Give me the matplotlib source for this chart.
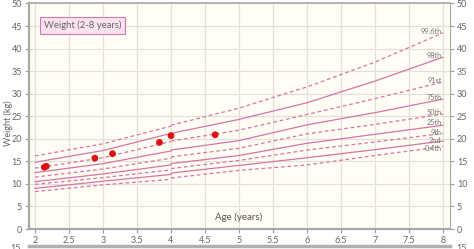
import matplotlib
matplotlib.use("Agg")
import matplotlib.pyplot as plt

# ---- data ----
ages_early = [2, 3, 4]
ages_late = [4, 5, 6, 7, 8]
centile_names = ["99.6th", "98th", "91st", "75th", "50th", "25th", "9th", "2nd", "0.4th"]
centile_dashed = [True, False, True, False, True, False, True, False, True]
early_vals = [
    [16.2, 18.9, 22.8],
    [14.8, 17.4, 21.2],
    [13.5, 15.8, 19.4],
    [12.5, 14.5, 17.3],
    [11.5, 13.3, 15.7],
    [10.5, 12.2, 14.2],
    [9.9, 11.4, 13.1],
    [9.0, 10.6, 12.1],
    [8.3, 9.8, 11.0],
]
late_vals = [
    [23.0, 26.8, 31.5, 37.0, 43.5],
    [21.2, 24.3, 28.0, 32.8, 38.1],
    [19.5, 21.9, 25.4, 28.9, 32.6],
    [17.5, 19.6, 23.1, 25.8, 28.8],
    [16.0, 17.9, 21.1, 23.2, 25.5],
    [14.5, 16.3, 19.0, 21.0, 23.0],
    [13.4, 15.2, 17.5, 19.3, 21.2],
    [12.4, 14.1, 15.8, 17.6, 19.5],
    [11.3, 13.0, 14.2, 16.3, 18.3],
]
point_ages = [2.137, 2.166, 2.88, 3.14, 3.83, 4.0, 4.65]
point_weights = [13.7, 13.9, 15.7, 16.7, 19.2, 20.7, 20.9]
x_ticks = [2, 2.5, 3, 3.5, 4, 4.5, 5, 5.5, 6, 6.5, 7, 7.5, 8]
y_ticks = [0, 5, 10, 15, 20, 25, 30, 35, 40, 45, 50]

plt.rcParams['font.family'] = ['Lato', 'DejaVu Sans']

W, H = 474, 249
fig = plt.figure(figsize=(W / 100, H / 100), dpi=100)
fig.patch.set_facecolor('white')
ax = fig.add_axes([29 / W, 1 - 229 / H, (450 - 29) / W, (229 - 3.5) / H])
ax.set_facecolor('#fffdf4')
ax.set_xlim(2 - 6 / 68, 2 + (450 - 35) / 68)
ax.set_ylim(0, 50)

ax.set_xticks(x_ticks)
ax.set_xticklabels([f"{t:g}" for t in x_ticks])
ax.set_yticks(y_ticks)
ax.grid(True, color='#e4e1d8', linewidth=0.9)
ax.set_axisbelow(True)

for side in ['left', 'right', 'bottom', 'top']:
    ax.spines[side].set_color('#a8a8a8')
ax.spines['left'].set_linewidth(1.6)
ax.spines['bottom'].set_linewidth(1.6)
ax.spines['right'].set_linewidth(0.8)
ax.spines['top'].set_linewidth(1.2)

ax.tick_params(axis='both', colors='#a0a0a0', labelcolor='#666666', labelsize=6.5,
               length=3, width=0.8, pad=2)
ax.tick_params(axis='y', right=True, labelright=True)

label_shift = {"25th": 0.6, "9th": 0.3, "2nd": 0.1, "0.4th": -0.4}
line_color = '#d774a8'
for name, dashed, ev, lv in zip(centile_names, centile_dashed, early_vals, late_vals):
    ls = (0, (3, 2.2)) if dashed else '-'
    ax.plot(ages_early, ev, color=line_color, lw=0.9, ls=ls)
    ax.plot(ages_late, lv, color=line_color, lw=0.9, ls=ls)
    ax.text(7.98, lv[-1] + label_shift.get(name, 0.3), name, fontsize=5.3,
            color='#777777', ha='right', va='center')

ax.scatter(point_ages, point_weights, s=24, color='#dd1111', zorder=5, edgecolors='none')

ax.text(5.0, 1.6, 'Age (years)', fontsize=7, color='#555555', ha='center', va='bottom')
fig.text(8 / W, 1 - 123 / H, 'Weight (kg)', fontsize=6.5, color='#666666',
         rotation=90, ha='center', va='center')

ax.text(2.13, 45.1, 'Weight (2-8 years)', fontsize=6.8, color='#666666', ha='left', va='center',
        bbox=dict(boxstyle='square,pad=0.4', facecolor='#fbe2f0', edgecolor='#d57aae', lw=0.8))

# bottom edge of the next chart
fig.add_artist(plt.Line2D([29 / W, 450 / W], [1 - 246 / H, 1 - 246 / H],
                          color='#b0b0b0', lw=2.5, transform=fig.transFigure))
fig.text(21 / W, 1 - 243.5 / H, '15', fontsize=6.5, color='#666666', ha='right', va='top')
fig.text(456 / W, 1 - 243.5 / H, '15', fontsize=6.5, color='#666666', ha='left', va='top')

fig.savefig('out.png', dpi=100)
